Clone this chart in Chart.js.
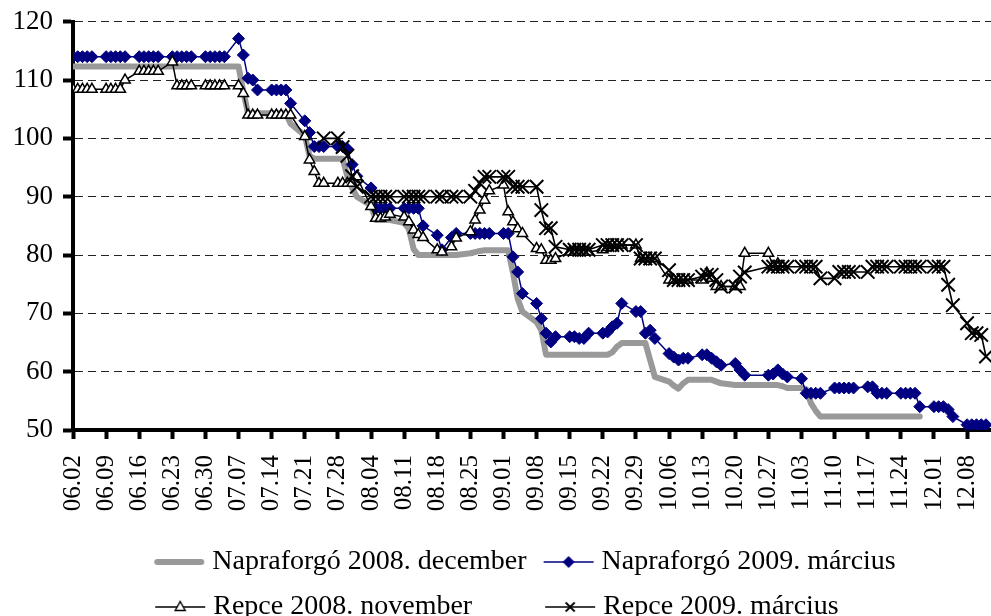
<!DOCTYPE html>
<html><head><meta charset="utf-8">
<script src="https://cdn.jsdelivr.net/npm/chart.js@4.4.1/dist/chart.umd.min.js"></script>
<style>
html,body{margin:0;padding:0;overflow:hidden;background:#fff;width:991px;height:616px}
#wrap{position:absolute;left:0;top:0;width:1050px;height:631px}
</style></head><body><div id="wrap"><canvas id="c" width="1050" height="631"></canvas></div>
<script>
// Weekly tick labels (Mondays, 2008)
const weekLabels = ['06.02','06.09','06.16','06.23','06.30','07.07','07.14','07.21','07.28','08.04','08.11','08.18','08.25','09.01','09.08','09.15','09.22','09.29','10.06','10.13','10.20','10.27','11.03','11.10','11.17','11.24','12.01','12.08'];
const seriesNames = ['Napraforgó 2008. december','Napraforgó 2009. március','Repce 2008. november','Repce 2009. március'];

// Daily values, Mon..Fri of each week (null = no quotation)
const napraforgoDec = [
 112.3,112.3,112.3,112.3,112.3, 112.3,112.3,112.3,112.3,112.3, 112.3,112.3,112.3,112.3,112.3, 112.3,112.3,112.3,112.3,112.3,
 112.3,112.3,112.3,112.3,112.3, 112.3,108,104.3,104.3,104.3, 104.3,104.3,104.3,104.3,102.5, 100.5,97,96.5,96.5,96.5,
 96.5,96.5,93.5,91.5,90, 88.5,86,86,86,86, 85.5,84.5,81,80,80, 80,80,null,80,80,
 80.3,80.5,80.7,80.8,80.8, 80.8,80.8,77,72.5,70.3, 68.5,67.1,62.9,62.9,62.9, 62.9,62.9,62.9,62.9,62.9,
 62.9,62.9,63.3,64.3,64.9, 64.9,64.9,64.9,62,59.1, 58.3,57.6,57.1,58,58.6, 58.6,58.6,58.6,58.3,58,
 57.7,57.7,57.7,null,null, 57.7,57.7,57.7,57.5,57.2, 57.2,57,54.6,53.3,52.3, 52.3,52.3,52.3,52.3,52.3,
 52.3,52.3,52.3,52.3,52.3, 52.3,52.3,52.3,52.3,52.3, null,null,null,null,null, null,null,null,null,null
];
const napraforgoMar = [
 114,114,114,114,114, 114,114,114,114,114, 114,114,114,114,114, 114,114,114,114,114,
 114,114,114,114,114, 117.1,114.3,110.3,110,108.3, 108.3,108.3,108.3,108.3,106, 103,101,98.6,98.6,98.6,
 98.6,98.6,98.2,95.5,93.5, 91.5,88,88,88,88, 88,88,88,88,85, 83.4,80.9,null,83,83.7,
 83.7,83.7,83.7,83.7,83.7, 83.7,83.7,79.7,77.1,73.4, 71.7,69.1,66.6,65.1,66, 66,66,65.7,65.7,66.6,
 66.6,66.8,67.7,68.3,71.7, 70.3,70.3,66.6,67.1,65.7, 63.1,62.5,62,62.3,62.3, 62.9,62.9,62.3,61.7,61.1,
 61.4,60.3,59.4,null,null, 59.4,59.6,60.3,59.6,59.1, 58.8,56.3,56.3,56.3,56.3, 57.2,57.2,57.2,57.2,57.2,
 57.4,57.4,56.3,56.3,56.3, 56.3,56.3,56.3,56.3,54, 54,54,54,53.5,52.3, 50.9,50.9,50.9,50.9,50.9
];
const repceNov = [
 108.4,108.4,108.4,108.4,108.4, 108.4,108.4,108.4,108.4,110, 111.5,111.5,111.5,111.5,111.5, 113.1,109,109,109,109,
 109,109,109,109,109, 109,107.7,104,104,104, 104,104,104,104,104, 100.3,96.3,94.3,92.3,92.3,
 92.3,92.3,92.3,92.3,93.4, 88.3,86.3,86.3,86.5,87, 86.5,85.7,84.3,83.5,83, 80.9,80.5,null,81.4,82.9,
 84,86,87.7,89.4,91, 92,87.4,85.7,84.5,83.7, 81.1,80.9,79.1,79.1,79.4, 80.5,80.5,80.5,80.5,80.5,
 80.9,81.3,81.7,81.7,81.7, 81.7,79.4,79.4,79.4,79.4, 75.7,75.7,75.7,75.7,75.7, 75.7,76.9,76,74.6,74.6,
 74.6,74.6,80.3,null,null, 80.3,78,78.5,78,null, null,null,null,null,null, null,null,null,null,null,
 null,null,null,null,null, null,null,null,null,null, null,null,null,null,null, null,null,null,null,null
];
const repceMar = [
 null,null,null,null,null, null,null,null,null,null, null,null,null,null,null, null,null,null,null,null,
 null,null,null,null,null, null,null,null,null,null, null,null,null,null,null, null,null,null,null,100,
 100,98.5,97,93.5,91.7, 90,90,90,90,90, 90,90,90,90,90, 90,90,null,90,90,
 90,91,92.3,93.4,93.4, 93.4,93.4,91.7,91.7,91.7, 91.7,87.7,84.6,84.6,81.4, 80.9,80.9,80.9,80.9,80.9,
 81.7,81.7,81.7,81.7,81.7, 81.7,79.4,79.4,79.4,79.4, 77.4,75.7,75.7,75.7,75.7, 76.3,76.6,76.6,75.7,74.6,
 74.6,76.3,77,null,null, 78,78,78,78,78, 78,78,78,78,76, 76,77.1,77.1,77.1,77.1,
 77.1,78,78,78,78, 78,78,78,78,78, 78,78,78,74.9,71.4, 68.3,66.6,66.6,66.3,62.6
];

function toPoints(arr){ return arr.map((v,i)=>({x: Math.floor(i/5)*7 + i%5, y: v})); }

const FONT = 'Liberation Serif';

function legendImg(kind){
  const c = document.createElement('canvas'); c.width = 64; c.height = 24;
  const g = c.getContext('2d'); const cy = 12, x0 = 10, x1 = 60, cx = 35;
  g.lineCap = 'butt';
  if (kind === 0){ g.strokeStyle='#999999'; g.lineWidth=6; g.lineCap='round'; g.beginPath(); g.moveTo(x0+3,cy); g.lineTo(x1-3,cy); g.stroke(); return c; }
  g.strokeStyle = kind===1 ? '#000080' : '#000'; g.lineWidth = 1.6;
  g.beginPath(); g.moveTo(x0,cy); g.lineTo(x1,cy); g.stroke();
  if (kind===1){ g.fillStyle='#000080'; g.beginPath(); g.moveTo(cx,cy-6); g.lineTo(cx+6,cy); g.lineTo(cx,cy+6); g.lineTo(cx-6,cy); g.closePath(); g.fill(); }
  if (kind===2){ g.fillStyle='#fff'; g.lineWidth=1.4; g.beginPath(); g.moveTo(cx,cy-5.5); g.lineTo(cx+5,cy+3.5); g.lineTo(cx-5,cy+3.5); g.closePath(); g.fill(); g.stroke(); }
  if (kind===3){ g.lineWidth=1.8; g.beginPath(); g.moveTo(cx-4.5,cy-4.5); g.lineTo(cx+4.5,cy+4.5); g.moveTo(cx+4.5,cy-4.5); g.lineTo(cx-4.5,cy+4.5); g.stroke(); }
  return c;
}
const legendImgs = [0,1,2,3].map(legendImg);

const chart = new Chart(document.getElementById('c'), {
  type: 'line',
  data: {
    datasets: [
      { label: seriesNames[0], data: toPoints(napraforgoDec), borderColor:'#999999', borderWidth:6, pointRadius:0, borderCapStyle:'round', borderJoinStyle:'round', order:3 },
      { label: seriesNames[1], data: toPoints(napraforgoMar), borderColor:'#000080', backgroundColor:'#000080', borderWidth:1.5, pointStyle:'rectRot', pointRadius:6, pointBorderWidth:1, order:2 },
      { label: seriesNames[2], data: toPoints(repceNov), borderColor:'#000', backgroundColor:'#fff', borderWidth:1.5, pointStyle:'triangle', pointRadius:6, pointBorderWidth:1.5, order:1 },
      { label: seriesNames[3], data: toPoints(repceMar), borderColor:'#000', backgroundColor:'#000', borderWidth:1.6, pointStyle:'crossRot', pointRadius:9.5, pointBorderWidth:2, order:0 }
    ]
  },
  options: {
    responsive:false, devicePixelRatio:1, animation:false, spanGaps:true,
    layout:{ padding:{ top:21.7, left:0, right:0, bottom:0 } },
    elements:{ line:{ tension:0, fill:false } },
    scales:{
      x:{ type:'linear', min:0, max:204.1,
        afterBuildTicks: s => { s.ticks = weekLabels.map((l,i)=>({value:i*7})); },
        afterFit: s => { s.height = 101; },
        ticks:{ autoSkip:false, maxRotation:90, minRotation:90, padding:16, color:'#000', font:{family:FONT,size:25},
          callback:(v,i)=>weekLabels[i] },
        grid:{ drawOnChartArea:false, tickLength:9, tickWidth:4, tickColor:'#000' },
        border:{ width:4, color:'#000' }
      },
      y:{ min:50, max:120,
        afterFit: s => { s.width = 73; s.paddingTop = 0; s.paddingBottom = 0; },
        ticks:{ stepSize:10, padding:10, color:'#000', font:{family:FONT,size:27} },
        grid:{ color:'#222', lineWidth:1, tickLength:10, tickWidth:4, tickColor:'#000' },
        border:{ width:4, color:'#000', dash:[8,5] }
      }
    },
    plugins:{
      tooltip:{enabled:false},
      legend:{ position:'bottom',
        labels:{ usePointStyle:true, pointStyleWidth:44, padding:17, color:'#000', font:{family:FONT,size:28},
          sort:(a,b)=>a.datasetIndex-b.datasetIndex,
          generateLabels:(ch)=>{
            const items = Chart.defaults.plugins.legend.labels.generateLabels(ch);
            const ctx = ch.ctx; ctx.save(); ctx.font = '28px "'+FONT+'"';
            const w = seriesNames.map(t=>ctx.measureText(t).width);
            const sp = ctx.measureText('\u00A0').width; ctx.restore();
            const colW = [Math.max(w[0],w[2]), Math.max(w[1],w[3])];
            items.forEach(it=>{
              const d = it.datasetIndex;
              const n = Math.round((colW[d%2]-w[d])/sp);
              it.text = seriesNames[d] + '\u00A0'.repeat(Math.max(0,n));
              it.pointStyle = legendImgs[d];
              it.fontColor = '#000';
            });
            return items;
          }
        }
      }
    }
  }
});
</script></body></html>
